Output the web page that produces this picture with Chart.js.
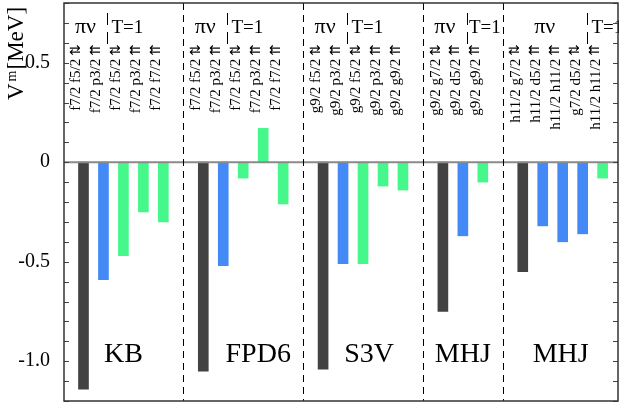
<!DOCTYPE html>
<html>
<head>
<meta charset="utf-8">
<script src="https://cdn.jsdelivr.net/npm/chart.js@4.4.1/dist/chart.umd.min.js"></script>
<style>
  html, body { margin: 0; padding: 0; background: #fff; }
  #graph { display: block; }
</style>
</head>
<body>
<canvas id="graph" width="619" height="405"></canvas>
<script>
// models (one panel each)
var models = ['KB', 'FPD6', 'S3V', 'MHJ', 'MHJ'];

// proton-neutron pairs, spin coupling and values [MeV]
var pnLabels = [
  ['f7/2 f5/2', 'f7/2 p3/2'],
  ['f7/2 f5/2', 'f7/2 p3/2'],
  ['g9/2 f5/2', 'g9/2 p3/2'],
  ['g9/2 g7/2', 'g9/2 d5/2'],
  ['h11/2 g7/2', 'h11/2 d5/2', 'h11/2 h11/2', 'g7/2 d5/2']
];
var pnSpins = [
  ['⇅', '⇈'],
  ['⇅', '⇈'],
  ['⇅', '⇈'],
  ['⇅', '⇈'],
  ['⇅', '⇈', '⇈', '⇅']
];
var pnValues = [
  [-1.14, -0.59],
  [-1.05, -0.52],
  [-1.04, -0.51],
  [-0.75, -0.37],
  [-0.55, -0.32, -0.40, -0.36]
];

// T=1 pairs, spin coupling and values [MeV]
var t1Labels = [
  ['f7/2 f5/2', 'f7/2 p3/2', 'f7/2 f7/2'],
  ['f7/2 f5/2', 'f7/2 p3/2', 'f7/2 f7/2'],
  ['g9/2 f5/2', 'g9/2 p3/2', 'g9/2 g9/2'],
  ['g9/2 g9/2'],
  ['h11/2 h11/2']
];
var t1Spins = [
  ['⇅', '⇈', '⇈'],
  ['⇅', '⇈', '⇈'],
  ['⇅', '⇈', '⇈'],
  ['⇈'],
  ['⇈']
];
var t1Values = [
  [-0.47, -0.25, -0.30],
  [-0.08, 0.17, -0.21],
  [-0.51, -0.12, -0.14],
  [-0.10],
  [-0.08]
];

var yTickLabels = { '5': '0.5', '0': '0', '-5': '-0.5', '-10': '-1.0' };

var DARK = '#424242', BLUE = '#438af6', GREEN = '#46f88b';
var SERIF = '"Liberation Serif", "DejaVu Serif", serif';

// lay the bars out in slots, one empty slot between models
var points = [], colors = [], labelSlots = [], groups = [], gaps = [];
var slot = 0;
for (var g = 0; g < models.length; g++) {
  var grp = { pn: [], t1: [] };
  for (var i = 0; i < pnValues[g].length; i++) {
    points.push({ x: slot, y: pnValues[g][i] });
    colors.push(i == 0 ? DARK : BLUE);
    labelSlots.push({ x: slot, text: pnLabels[g][i], spin: pnSpins[g][i] });
    grp.pn.push(slot);
    slot++;
  }
  for (var j = 0; j < t1Values[g].length; j++) {
    points.push({ x: slot, y: t1Values[g][j] });
    colors.push(GREEN);
    labelSlots.push({ x: slot, text: t1Labels[g][j], spin: t1Spins[g][j] });
    grp.t1.push(slot);
    slot++;
  }
  groups.push(grp);
  if (g < models.length - 1) { gaps.push(slot); slot++; }
}

var nameShift = [0, 15, 6, 0, -2];

var decor = {
  id: 'decor',
  afterDatasetsDraw: function(chart) {
    var ctx = chart.ctx, a = chart.chartArea;
    var xs = chart.scales.x, ys = chart.scales.y;
    ctx.save();

    // zero line
    ctx.strokeStyle = '#8a8a8a';
    ctx.lineWidth = 2;
    ctx.beginPath();
    ctx.moveTo(a.left, ys.getPixelForValue(0));
    ctx.lineTo(a.right, ys.getPixelForValue(0));
    ctx.stroke();

    // dashed separators between models
    ctx.strokeStyle = '#000';
    ctx.lineWidth = 1;
    ctx.setLineDash([7, 5]);
    gaps.forEach(function(s) {
      var x = Math.round(xs.getPixelForValue(s)) + 0.5;
      ctx.beginPath();
      ctx.moveTo(x, a.top);
      ctx.lineTo(x, a.bottom);
      ctx.stroke();
    });

    // short dashed separators between πν and T=1 headers
    ctx.setLineDash([12, 7]);
    var headSep = [];
    groups.forEach(function(grp) {
      var last = grp.pn[grp.pn.length - 1];
      var x = Math.round(xs.getPixelForValue(last + 0.2)) + 0.5;
      headSep.push(x);
      ctx.beginPath();
      ctx.moveTo(x, 13);
      ctx.lineTo(x, 44);
      ctx.stroke();
    });
    ctx.setLineDash([]);

    // headers
    ctx.fillStyle = '#000';
    ctx.textBaseline = 'alphabetic';
    groups.forEach(function(grp, k) {
      var mean = grp.pn.reduce(function(s, v) { return s + v; }, 0) / grp.pn.length;
      ctx.font = '22px ' + SERIF;
      ctx.textAlign = 'center';
      ctx.fillText('πν', xs.getPixelForValue(mean - 0.4), 33);
      ctx.font = '19px ' + SERIF;
      ctx.textAlign = 'left';
      var w = ctx.measureText('T=1').width;
      var left = headSep[k] + 4;
      if (k < gaps.length) {
        left = Math.min(left, xs.getPixelForValue(gaps[k]) - 2 - w);
      }
      ctx.fillText('T=1', left, 33);
    });

    // rotated pair labels, spin arrows on top
    ctx.textAlign = 'right';
    ctx.textBaseline = 'middle';
    labelSlots.forEach(function(l) {
      ctx.save();
      ctx.translate(xs.getPixelForValue(l.x) - 7, 44);
      ctx.rotate(-Math.PI / 2);
      ctx.font = '14px "DejaVu Sans"';
      ctx.fillText(l.spin, 0, 0);
      var aw = ctx.measureText(l.spin).width;
      ctx.font = '15px ' + SERIF;
      ctx.fillText(l.text, -aw - 3, 0);
      ctx.restore();
    });

    // model names
    ctx.font = '28px ' + SERIF;
    ctx.textAlign = 'center';
    ctx.textBaseline = 'alphabetic';
    groups.forEach(function(grp, k) {
      var all = grp.pn.concat(grp.t1);
      var mid = (all[0] + all[all.length - 1]) / 2;
      ctx.fillText(models[k], xs.getPixelForValue(mid) + nameShift[k], 362);
    });

    // inward ticks every 0.1
    ctx.strokeStyle = '#444';
    ctx.lineWidth = 1;
    for (var t = -12; t <= 8; t++) {
      var y = Math.round(ys.getPixelForValue(t / 10)) + 0.5;
      ctx.beginPath();
      ctx.moveTo(a.left, y); ctx.lineTo(a.left + 5, y);
      ctx.moveTo(a.right, y); ctx.lineTo(a.right - 5, y);
      ctx.stroke();
    }

    // frame
    ctx.strokeStyle = '#333';
    ctx.lineWidth = 1.5;
    ctx.strokeRect(a.left, a.top, a.right - a.left, a.bottom - a.top);

    // y title: V^m [MeV]
    ctx.save();
    ctx.translate(17, 100);
    ctx.rotate(-Math.PI / 2);
    ctx.textAlign = 'left';
    ctx.textBaseline = 'middle';
    ctx.font = '23px ' + SERIF;
    ctx.fillText('V', 0, 0);
    var vx = ctx.measureText('V').width + 2;
    ctx.font = '14px ' + SERIF;
    ctx.fillText('m', vx, -5);
    vx += ctx.measureText('m').width + 1;
    ctx.font = '23px ' + SERIF;
    ctx.fillText('[MeV]', vx, 0);
    ctx.restore();

    ctx.restore();
  }
};

var graphique = new Chart(document.getElementById('graph').getContext('2d'), {
  type: 'bar',
  data: {
    datasets: [{
      data: points,
      backgroundColor: colors,
      borderWidth: 0,
      barThickness: 10
    }]
  },
  options: {
    responsive: false,
    animation: false,
    devicePixelRatio: 1,
    layout: { padding: { top: 3, right: 1, bottom: 4, left: 0 } },
    plugins: { legend: { display: false }, tooltip: { enabled: false } },
    scales: {
      x: { type: 'linear', min: -0.976, max: 26.77, offset: false, display: false },
      y: {
        min: -1.2,
        max: 0.8,
        grid: { display: false },
        border: { display: false },
        afterFit: function(scale) {
          scale.width = 64;
          scale.paddingTop = 0;
          scale.paddingBottom = 0;
          scale.paddingLeft = 0;
          scale.paddingRight = 0;
        },
        ticks: {
          stepSize: 0.1,
          autoSkip: false,
          padding: 6,
          color: '#000',
          font: { family: SERIF, size: 20 },
          callback: function(v) {
            var k = String(Math.round(v * 10));
            return yTickLabels[k] !== undefined ? yTickLabels[k] : '';
          }
        }
      }
    }
  },
  plugins: [decor]
});
</script>
</body>
</html>
